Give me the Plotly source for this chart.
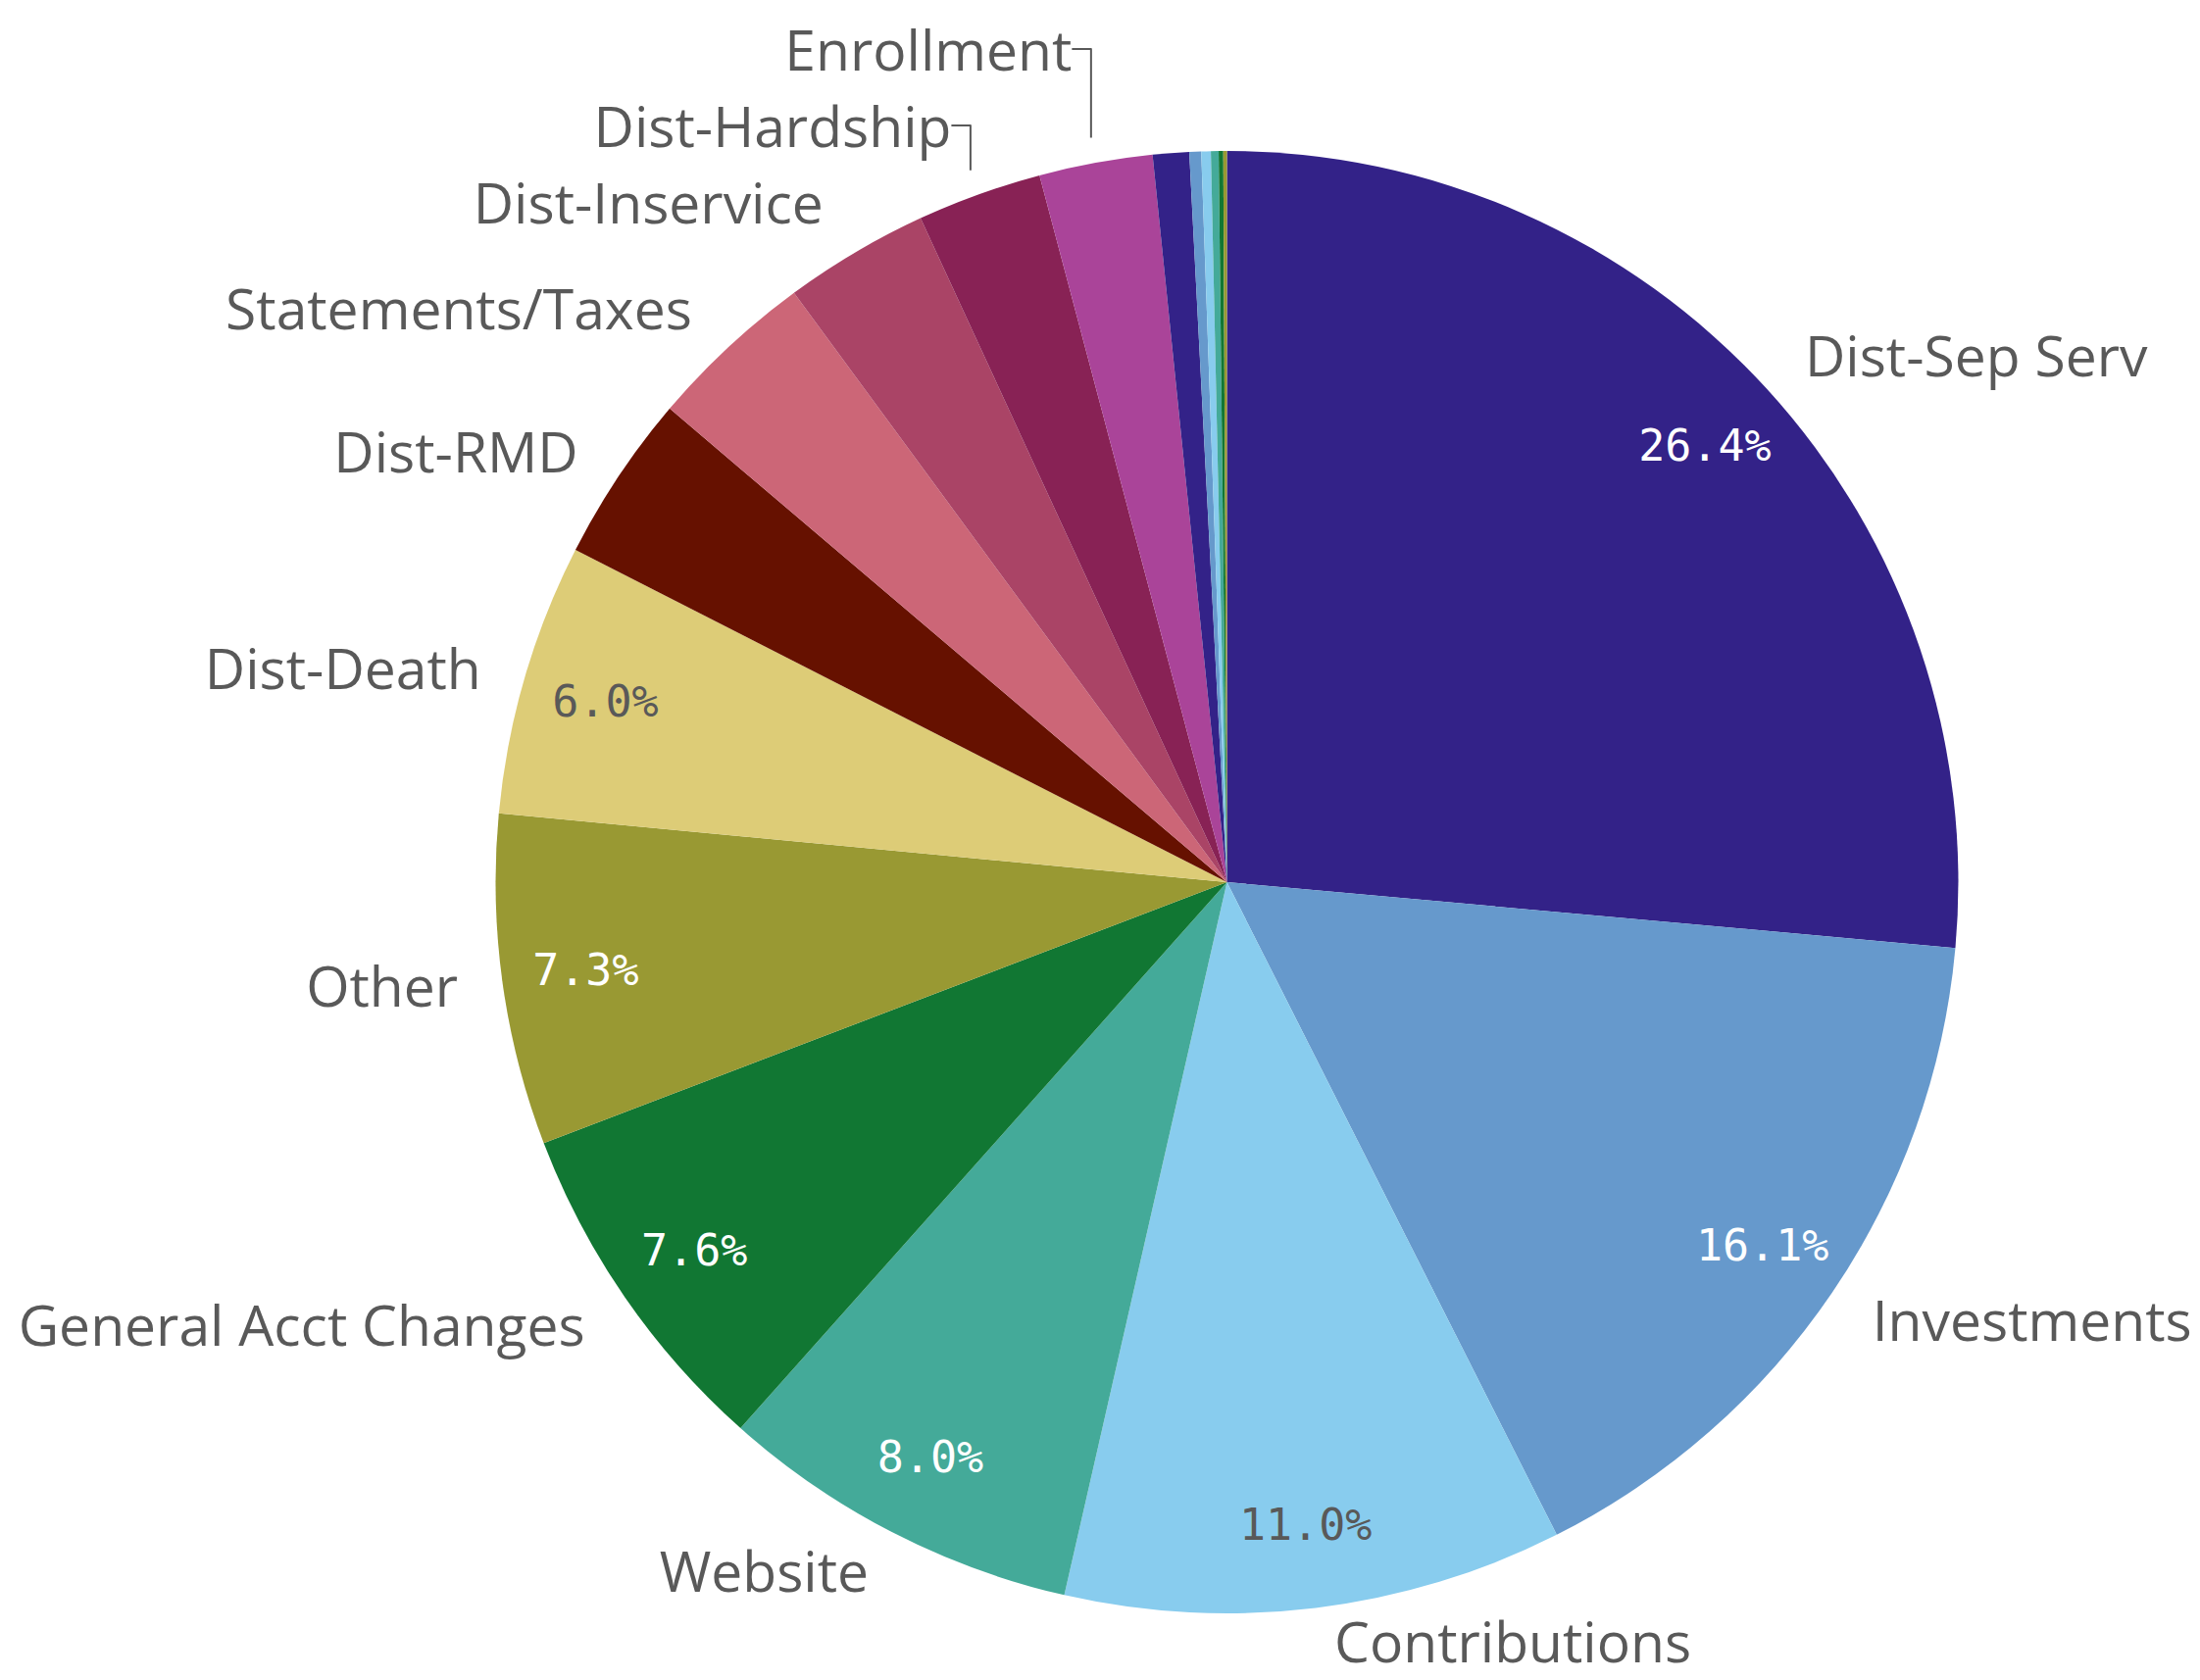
import plotly.graph_objects as go

# slice names, clockwise from 12 o'clock
labels = ['Dist-Sep Serv', 'Investments', 'Contributions', 'Website',
          'General Acct Changes', 'Other', 'Dist-Death', 'Dist-RMD',
          'Statements/Taxes', 'Dist-Inservice', 'Dist-Hardship', 'Enrollment',
          'Misc A', 'Misc B', 'Misc C', 'Misc D', 'Misc E', 'Misc F']
# share of tickets (%)
values = [26.4, 16.1, 11.0, 8.0, 7.6, 7.3, 6.0, 3.7, 3.7, 3.2, 2.75, 2.5,
          0.8, 0.26, 0.21, 0.17, 0.1, 0.08]
# which slices carry a percentage / a name (names below the pie sit closer in)
show_pct = [True] * 7 + [False] * 11
name_ring = ['side', 'side', 'bottom', 'low'] + ['side'] * 8 + [None] * 6

palette = ['#332288', '#6699cc', '#88ccee', '#44aa99', '#117733', '#999933',
           '#ddcc77', '#661100', '#cc6677', '#aa4466', '#882255', '#aa4499']
colors = [palette[i % len(palette)] for i in range(len(labels))]
pct_colors = ['white', 'white', '#595959', 'white', 'white', 'white', '#595959'] + ['white'] * 11
clear = ['rgba(0,0,0,0)'] * len(labels)

W, H = 2236, 1706  # page body has an 8px margin, so this fills the window
pie_dom = dict(x=[0.22249, 0.88975], y=[0.03986, 0.91442])
rings = {
    'side': dict(x=[0.21087, 0.90138], y=[0.02462, 0.92966]),
    'low': dict(x=[0.21847, 0.89379], y=[0.03458, 0.91970]),
    'bottom': dict(x=[0.22473, 0.88752], y=[0.04279, 0.91149]),
}

common = dict(labels=labels, values=values, sort=False, direction='clockwise',
              rotation=0, showlegend=False, automargin=False)

fig = go.Figure()
fig.add_trace(go.Pie(
    **common,
    domain=pie_dom,
    marker=dict(colors=colors, line=dict(width=0)),
    textinfo='none',
))
# percentages sit near the rim, like the original
fig.add_trace(go.Pie(
    **common,
    domain=pie_dom,
    hole=0.77,
    marker=dict(colors=clear, line=dict(width=0)),
    texttemplate=['%{percent:.1%}' if s else '' for s in show_pct],
    textposition='inside',
    insidetextorientation='horizontal',
    insidetextfont=dict(family='DejaVu Sans Mono', size=45, color=pct_colors),
    hoverinfo='skip',
))
for ring, dom in rings.items():
    fig.add_trace(go.Pie(
        **common,
        domain=dom,
        marker=dict(colors=clear, line=dict(width=0)),
        texttemplate=['%{label}' if r == ring else '' for r in name_ring],
        textposition='outside',
        outsidetextfont=dict(family='Open Sans', size=57, color='#595959'),
        hoverinfo='skip',
    ))

fig.update_layout(
    width=W,
    height=H,
    margin=dict(l=0, r=0, t=0, b=0, autoexpand=False),
    paper_bgcolor='white',
    plot_bgcolor='white',
)

fig.write_html("out.html")
